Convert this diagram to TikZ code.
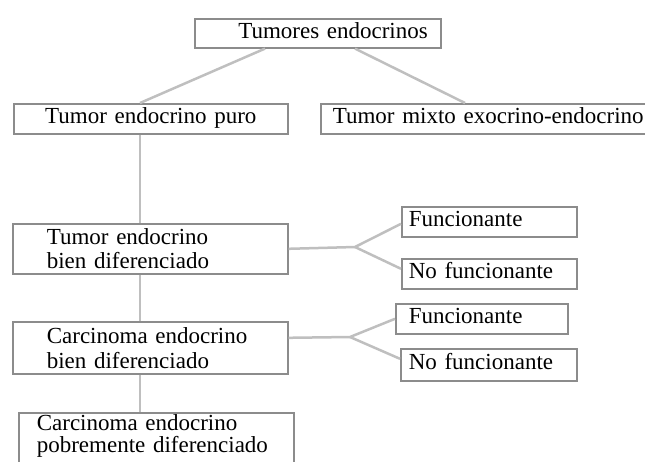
\documentclass[tikz,border=0pt]{standalone}
\usepackage{fontspec}
\setmainfont{Liberation Serif}
\usetikzlibrary{calc, positioning}

\begin{document}
\begin{tikzpicture}[
    x=1pt, y=-1pt,
    font=\fontsize{23}{24}\selectfont,
    graybox/.style={rectangle, draw=black!45, fill=white, line width=1.6pt, anchor=north west, align=left, inner ysep=1pt},
    onebox/.style={graybox, text height=15pt, text depth=5pt},
    link/.style={draw=black!25, line width=2.5pt}
]
    \useasboundingbox (0,0) rectangle (645,461);

    % Clasificacion general
    \node [onebox, minimum width=246pt, minimum height=29pt, text width=220pt, inner xsep=13pt, align=right] (tumores) at (194,18) {Tumores endocrinos};
    \node [onebox, minimum width=274pt, minimum height=30pt, text width=250pt, inner xsep=12pt, align=center] (puro) at (13,103) {Tumor endocrino puro};
    \node [onebox, minimum width=354pt, minimum height=30pt, text width=330pt, inner xsep=11pt] (mixto) at (320,103) {Tumor mixto exocrino-endocrino};

    % Grados de diferenciacion
    \node [graybox, minimum width=275pt, minimum height=50pt, text width=207pt, inner xsep=34pt] (tebd) at (12,223) {Tumor endocrino\\bien diferenciado};
    \node [graybox, minimum width=275pt, minimum height=52pt, text width=207pt, inner xsep=34pt, font=\fontsize{23}{25}\selectfont] (cebd) at (12,321) {Carcinoma endocrino\\bien diferenciado};
    \node [graybox, minimum width=275pt, text width=239pt, inner xsep=18pt, inner ysep=2pt, text depth=45pt, font=\fontsize{23}{22}\selectfont] (cepd) at (18,412) {Carcinoma endocrino\\pobremente diferenciado};

    % Funcionalidad
    \node [onebox, minimum width=175pt, minimum height=30pt, text width=161pt, inner xsep=7pt] (func1) at (401,206) {Funcionante};
    \node [onebox, minimum width=175pt, minimum height=30pt, text width=161pt, inner xsep=7pt] (nofunc1) at (401,258) {No funcionante};
    \node [onebox, minimum width=172pt, minimum height=30pt, text width=146pt, inner xsep=13pt] (func2) at (395,303) {Funcionante};
    \node [onebox, minimum width=176pt, minimum height=32pt, text width=160pt, inner xsep=8pt] (nofunc2) at (400,348) {No funcionante};

    \coordinate (split1) at (355,247);
    \coordinate (split2) at (350,337);

    \draw [link] ([xshift=71pt]tumores.south west) -- ([xshift=127pt]puro.north west);
    \draw [link] ([xshift=161pt]tumores.south west) -- ([xshift=145pt]mixto.north west);
    \draw [link] ([xshift=127pt]puro.south west) -- ([xshift=128pt]tebd.north west);
    \draw [link] ([xshift=128pt]tebd.south west) -- ([xshift=128pt]cebd.north west);
    \draw [link] ([xshift=128pt]cebd.south west) -- ([xshift=122pt]cepd.north west);
    \draw [link] (tebd.east) -- (split1) -- ([yshift=-2pt]func1.west);
    \draw [link] (split1) -- ([yshift=5pt]nofunc1.west);
    \draw [link] ([yshift=10pt]cebd.east) -- (split2) -- (func2.west);
    \draw [link] (split2) -- ([yshift=6pt]nofunc2.west);

\end{tikzpicture}
\end{document}
